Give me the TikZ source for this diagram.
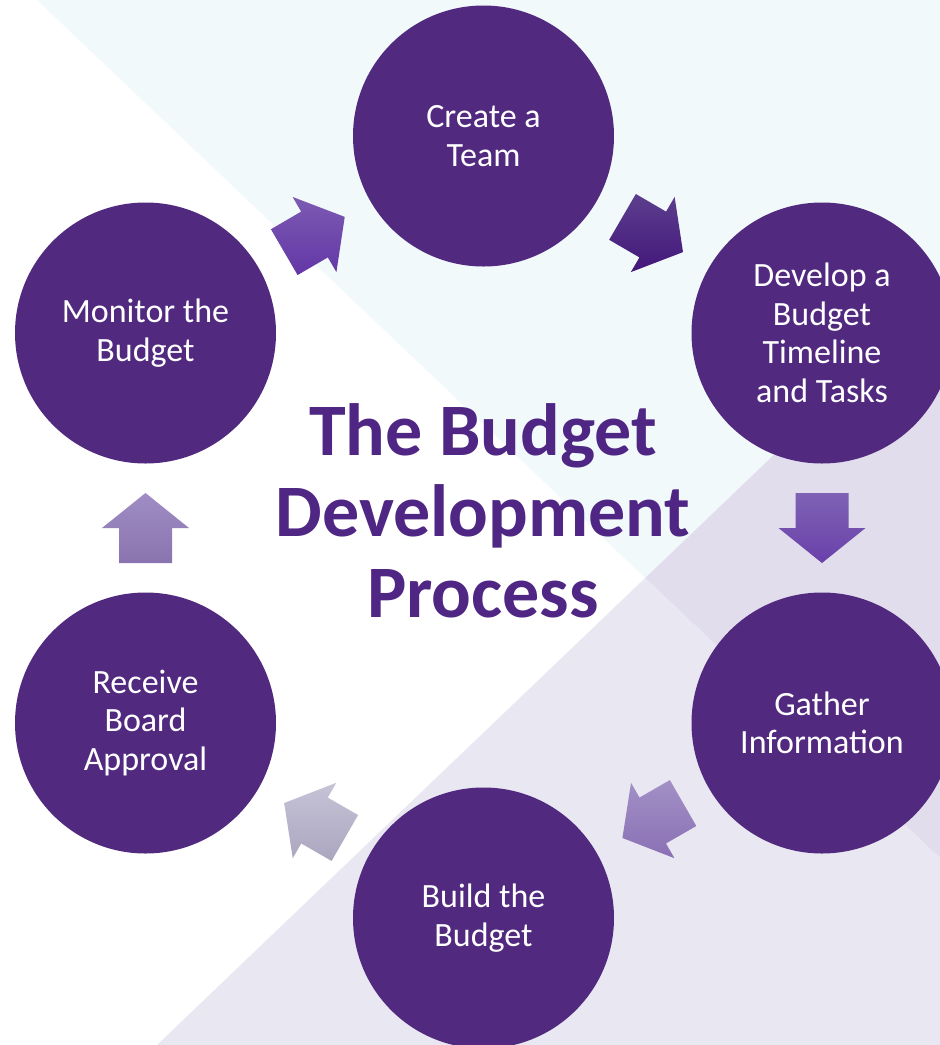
\documentclass[tikz,border=0pt]{standalone}
\usepackage{fontspec}
\setmainfont{Carlito}
\usetikzlibrary{calc}

\definecolor{stagefill}{HTML}{51297F}
\definecolor{titlecol}{HTML}{4F2683}
\definecolor{skyback}{HTML}{F1F9FB}
\definecolor{lavdark}{HTML}{E1DDEC}
\definecolor{lavlight}{HTML}{E9E7F2}
% arrow shades, top and bottom
\definecolor{arrAtop}{HTML}{7C5BB2}\definecolor{arrAbot}{HTML}{6336A6}
\definecolor{arrBtop}{HTML}{5C3F8E}\definecolor{arrBbot}{HTML}{43167A}
\definecolor{arrCtop}{HTML}{7E62B4}\definecolor{arrCbot}{HTML}{6A40AA}
\definecolor{arrDtop}{HTML}{A290C6}\definecolor{arrDbot}{HTML}{8A70B4}
\definecolor{arrEtop}{HTML}{C6C3D7}\definecolor{arrEbot}{HTML}{ABA6BF}
\definecolor{arrFtop}{HTML}{A08DC5}\definecolor{arrFbot}{HTML}{8A74AF}

\tikzset{
	stage/.style={circle, fill=stagefill, minimum size=261, inner sep=0pt, text=white, align=center, font=\fontsize{34}{38.5}\selectfont},
	heading/.style={text=titlecol, align=center, font=\bfseries\fontsize{74}{81}\selectfont}
}

% block arrow half way between two stages
\newcommand{\flowarrow}[4]{%
	\pgfmathanglebetweenpoints{\pgfpointanchor{#1}{center}}{\pgfpointanchor{#2}{center}}
	\let\arrowangle\pgfmathresult
	\begin{scope}[shift={($(#1)!0.5!(#2)$)}, rotate=\arrowangle]
		\shade[top color=#3, bottom color=#4] (-35,-26.5) -- (0,-26.5) -- (0,-43.5) -- (35,0) -- (0,43.5) -- (0,26.5) -- (-35,26.5) -- cycle;
	\end{scope}}

\begin{document}
\begin{tikzpicture}[x=1pt, y=-1pt]
	% background
	\useasboundingbox (0,0) rectangle (940,1045);
	\fill[white] (0,0) rectangle (940,1045);
	\coordinate (meet) at (intersection of 37,0--940,858 and 157,1045--940,296);
	\fill[skyback] (37,0) -- (940,0) -- (940,296) -- (meet) -- cycle;
	\fill[lavdark] (meet) -- (940,296) -- (940,858) -- cycle;
	\fill[lavlight] (157,1045) -- (meet) -- (940,858) -- (940,1045) -- cycle;
	
	% stages
	\node[stage] (create)  at (483.5,136) {Create a\\Team};
	\node[stage] (develop) at (822,333)   {Develop a\\Budget\\Timeline\\and Tasks};
	\node[stage] (gather)  at (822,723)   {Gather\\Information};
	\node[stage] (build)   at (483.5,918) {Build the\\Budget};
	\node[stage] (receive) at (145.5,723) {Receive\\Board\\Approval};
	\node[stage] (monitor) at (145.5,333) {Monitor the\\Budget};
	
	\node[heading] (title) at (483,511) {The Budget\\Development\\Process};
	
	% arrows
	\flowarrow{monitor}{create}{arrAtop}{arrAbot}
	\flowarrow{create}{develop}{arrBtop}{arrBbot}
	\flowarrow{develop}{gather}{arrCtop}{arrCbot}
	\flowarrow{gather}{build}{arrDtop}{arrDbot}
	\flowarrow{build}{receive}{arrEtop}{arrEbot}
	\flowarrow{receive}{monitor}{arrFtop}{arrFbot}
\end{tikzpicture}
\end{document}
